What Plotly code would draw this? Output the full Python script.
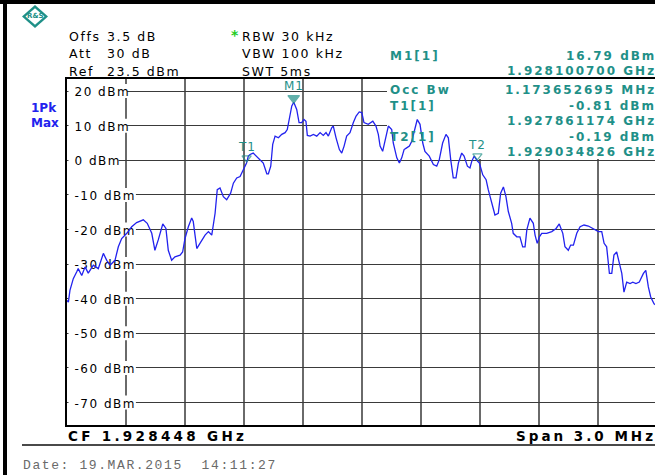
import plotly.graph_objects as go

# ---------------- data ----------------
center_ghz = 1.928448
span_mhz = 3.0
ref_level_dbm = 23.5
range_db = 100.0

offset_mhz = [0.000, 0.007, 0.015, 0.032, 0.049, 0.057, 0.075, 0.092, 0.108, 0.134,
              0.159, 0.185, 0.202, 0.219, 0.244, 0.261, 0.278, 0.304, 0.329, 0.354,
              0.388, 0.408, 0.431, 0.447, 0.464, 0.487, 0.503, 0.515, 0.532, 0.549,
              0.575, 0.588, 0.600, 0.617, 0.634, 0.642, 0.651, 0.660, 0.676, 0.702,
              0.719, 0.736, 0.753, 0.764, 0.778, 0.795, 0.812, 0.832, 0.846, 0.863,
              0.880, 0.893, 0.913, 0.922, 0.931, 0.947, 0.973, 0.998, 1.016, 1.024,
              1.036, 1.046, 1.058, 1.075, 1.092, 1.109, 1.120, 1.131, 1.143, 1.153,
              1.168, 1.180, 1.193, 1.205, 1.215, 1.222, 1.236, 1.253, 1.270, 1.287,
              1.303, 1.317, 1.329, 1.346, 1.354, 1.368, 1.385, 1.397, 1.409, 1.422,
              1.439, 1.456, 1.470, 1.486, 1.499, 1.510, 1.532, 1.555, 1.571, 1.583,
              1.592, 1.605, 1.617, 1.634, 1.651, 1.659, 1.677, 1.690, 1.702, 1.714,
              1.727, 1.741, 1.753, 1.770, 1.781, 1.795, 1.809, 1.820, 1.842, 1.863,
              1.880, 1.893, 1.910, 1.927, 1.939, 1.951, 1.964, 1.978, 1.990, 2.007,
              2.019, 2.036, 2.049, 2.058, 2.070, 2.087, 2.097, 2.114, 2.131, 2.142,
              2.160, 2.176, 2.193, 2.205, 2.219, 2.232, 2.244, 2.261, 2.269, 2.287,
              2.303, 2.317, 2.329, 2.338, 2.354, 2.371, 2.380, 2.391, 2.402, 2.414,
              2.439, 2.465, 2.487, 2.503, 2.521, 2.532, 2.549, 2.561, 2.575, 2.592,
              2.609, 2.629, 2.651, 2.676, 2.702, 2.719, 2.731, 2.744, 2.758, 2.770,
              2.781, 2.795, 2.808, 2.821, 2.832, 2.846, 2.863, 2.877, 2.893, 2.910,
              2.931, 2.943, 2.956, 2.968, 2.985, 3.000]

level_dbm = [-40.5, -41.0, -37.6, -34.2, -32.3, -31.3, -33.3, -30.8, -32.6, -30.3,
             -31.3, -26.9, -28.9, -30.3, -28.9, -25.0, -22.6, -21.1, -19.2, -18.0,
             -17.2, -18.2, -21.1, -26.0, -23.0, -18.4, -19.7, -26.0, -28.9, -27.9,
             -27.4, -26.5, -22.6, -19.2, -16.7, -17.7, -21.6, -25.5, -24.0, -21.6,
             -20.6, -21.6, -15.3, -8.5, -8.0, -10.5, -11.4, -9.5, -6.6, -5.1,
             -4.7, -3.2, -0.81, 1.2, 1.7, 2.1, 0.7, -0.8, -3.9, -3.9,
             -1.7, 4.6, 7.0, 6.5, 7.5, 8.0, 8.9, 12.8, 15.7, 16.79,
             14.7, 10.9, 10.9, 11.8, 11.3, 7.2, 7.0, 7.5, 7.0, 8.0,
             7.2, 8.0, 7.0, 9.4, 9.9, 6.5, 3.1, 2.1, 4.1, 7.0,
             8.0, 10.9, 12.8, 14.0, 13.8, 10.9, 10.4, 11.3, 9.9, 7.5,
             4.1, 2.6, 5.5, 9.9, 8.9, 5.0, 0.7, -0.8, 0.7, 3.1,
             3.6, 4.1, 5.5, 8.9, 11.8, 10.4, 5.0, 2.6, 1.2, -1.2,
             -1.7, 0.2, 5.0, 7.5, 6.5, 0.2, -5.1, -5.1, -0.8, 2.1,
             1.2, -1.7, -2.2, -0.3, 1.2, -0.19, -0.8, -4.2, -5.6, -8.5,
             -12.4, -15.8, -15.3, -9.5, -7.7, -10.5, -14.8, -18.2, -21.1, -22.1,
             -22.1, -25.0, -25.0, -20.1, -16.7, -18.2, -21.6, -24.0, -22.1, -21.1,
             -21.1, -20.6, -19.7, -18.4, -21.1, -25.0, -26.0, -24.5, -24.5, -21.1,
             -19.2, -18.7, -19.0, -19.7, -20.6, -20.6, -24.0, -25.0, -32.7, -32.7,
             -27.4, -26.5, -29.8, -32.7, -38.1, -35.2, -35.6, -35.2, -35.6, -35.2,
             -32.7, -31.8, -36.6, -39.5, -41.5, -42.0]

marker_names = ["M1", "T1", "T2"]
marker_freq_ghz = [1.9281007, 1.927861174, 1.929034826]
marker_level_dbm = [16.79, -0.81, -0.19]

y_tick_vals = [20, 10, 0, -10, -20, -30, -40, -50, -60, -70]
y_tick_text = [f"{v} dBm" for v in y_tick_vals]

header_left = [("Offs", "3.5 dB"), ("Att", "30 dB"), ("Ref", "23.5 dBm")]
header_mid = ["RBW 30 kHz", "VBW 100 kHz", "SWT 5ms"]
panel_rows = [("M1[1]", "16.79 dBm"), ("", "1.928100700 GHz"),
              ("Occ Bw", "1.173652695 MHz"), ("T1[1]", "-0.81 dBm"),
              ("", "1.927861174 GHz"), ("T2[1]", "-0.19 dBm"),
              ("", "1.929034826 GHz")]
footer_left = "CF 1.928448 GHz"
footer_right = "Span 3.0 MHz"
date_text = "Date: 19.MAR.2015\u00a0\u00a014:11:27"
trace_label = ["1Pk", "Max"]

# ---------------- layout geometry ----------------
W, H = 655, 475
L, R, T, B = 67, 0, 79, 50
PW, PH = W - L - R, H - T - B
FULL_PX = 590.0  # full 10-division width; right part is cut off by window
PX_PER_GHZ = FULL_PX / (span_mhz / 1000.0)
PX_PER_DB = PH / range_db

TEAL = "#1f9088"
BLUE = "#2222ee"

start_ghz = center_ghz - span_mhz / 2000.0
x_end = start_ghz + PW / PX_PER_GHZ
freq_ghz = [start_ghz + o / 1000.0 for o in offset_mhz]
x_grid = [start_ghz + k * span_mhz / 10000.0 for k in range(1, 10)]


def px(x):
    return (x - L) / PW


def py(y):
    return (H - B - y) / PH


def sp(text, ls):
    return f'<span style="letter-spacing:{ls}px">{text}</span>'


annotations = []


def ann(text, x, y, xanchor="left", size=12.5, color="black", bold=False,
        family="DejaVu Sans", ls=0.0):
    t = sp(text, ls) if ls else text
    if bold:
        t = f"<b>{t}</b>"
    annotations.append(dict(text=t, xref="paper", yref="paper", x=px(x), y=py(y),
                            xanchor=xanchor, yanchor="middle", showarrow=False,
                            borderpad=0,
                            font=dict(family=family, size=size, color=color)))


# header
for (lab, val), yy in zip(header_left, [36, 53.5, 71]):
    ann(lab, 68, yy, ls=1.6)
    ann(val, 106, yy, ls=1.6)
for txt, yy in zip(header_mid, [36, 53.5, 71]):
    ann(txt, 241, yy, ls=1.6)
ann("*", 230, 35, size=14, color="#22cc22", bold=True)

# marker panel
panel_y = [55.7, 71.5, 90, 105.5, 120.5, 136.7, 152.3]
for (lab, val), yy in zip(panel_rows, panel_y):
    if lab:
        ann(lab, 389, yy, size=12, color=TEAL, bold=True, ls=2.0)
    ann(val, 657, yy, xanchor="right", size=12, color=TEAL, bold=True, ls=2.0)

# trace label
ann(trace_label[0], 44, 108, xanchor="center", size=12, color=BLUE, bold=True)
ann(trace_label[1], 45, 123, xanchor="center", size=12, color=BLUE, bold=True)

# footer
ann(footer_left, 67, 436, size=13.5, bold=True, ls=3.3)
ann(footer_right, 657, 436, xanchor="right", size=13.5, bold=True, ls=3.0)
ann(date_text, 22, 465, size=13, color="#6a6a6a", family="Liberation Mono",
    ls=1.6)

# R&S logo text
ann("R&amp;S", 35, 16.5, xanchor="center", size=7, color=TEAL, bold=True)

# marker labels
for name, f, lv in zip(marker_names, marker_freq_ghz, marker_level_dbm):
    annotations.append(dict(text=sp(name, 1.0), x=f, y=lv, xref="x", yref="y",
                            yshift=16, showarrow=False, xanchor="center",
                            yanchor="middle",
                            font=dict(family="DejaVu Sans", size=12, color=TEAL)))

shapes = []
# tick label boxes (under the trace, above the grid)
for v, t in zip(y_tick_vals, y_tick_text):
    box_px = 8.7 * len(t) + 8
    shapes.append(dict(type="rect", layer="between", xref="x", yref="y",
                       x0=start_ghz + 1.5 / PX_PER_GHZ,
                       x1=start_ghz + box_px / PX_PER_GHZ,
                       y0=v - 7 / PX_PER_DB, y1=v + 7 / PX_PER_DB,
                       fillcolor="white", line=dict(width=0),
                       label=dict(text=sp(t, 1.5), textposition="middle left",
                                  padding=3,
                                  font=dict(family="DejaVu Sans", size=12,
                                            color="black"))))

# white area behind the marker panel
shapes.append(dict(type="rect", layer="between", xref="x", yref="y",
                   x0=start_ghz + (387 - L) / PX_PER_GHZ,
                   x1=x_end, y0=0.4, y1=ref_level_dbm,
                   fillcolor="white", line=dict(width=0)))

# outer black frame of the screenshot
shapes.append(dict(type="rect", xref="paper", yref="paper", layer="above",
                   x0=px(0), x1=px(W), y0=py(4), y1=py(0),
                   fillcolor="black", line=dict(width=0)))
shapes.append(dict(type="rect", xref="paper", yref="paper", layer="above",
                   x0=px(3), x1=px(7), y0=py(H), y1=py(0),
                   fillcolor="black", line=dict(width=0)))
# separator line under footer
shapes.append(dict(type="line", xref="paper", yref="paper", layer="above",
                   x0=px(22), x1=px(W), y0=py(445), y1=py(445),
                   line=dict(color="#4a4a4a", width=2)))

# logo diamond
cx, cy = 35, 16.5


def diamond(hw, hh):
    return (f"M {px(cx - hw)} {py(cy)} L {px(cx)} {py(cy - hh)} "
            f"L {px(cx + hw)} {py(cy)} L {px(cx)} {py(cy + hh)} Z")


shapes.append(dict(type="path", xref="paper", yref="paper", layer="above",
                   path=diamond(13, 11.5), fillcolor=TEAL, line=dict(width=0)))
shapes.append(dict(type="path", xref="paper", yref="paper", layer="above",
                   path=diamond(9.5, 8.3), fillcolor="white", line=dict(width=0)))

fig = go.Figure()
fig.add_trace(go.Scatter(x=freq_ghz, y=level_dbm, mode="lines",
                         line=dict(color=BLUE, width=1.3), hoverinfo="skip"))

marker_lift_db = [1.2, 1.5, 1.5]
fig.add_trace(go.Scatter(
    x=marker_freq_ghz,
    y=[lv + d for lv, d in zip(marker_level_dbm, marker_lift_db)],
    mode="markers", hoverinfo="skip",
    marker=dict(symbol=["triangle-down", "triangle-down-open", "triangle-down-open"],
                size=[10, 8, 8], color=TEAL, line=dict(color=TEAL, width=1.3))))

fig.update_layout(
    width=W, height=H,
    margin=dict(l=L, r=R, t=T, b=B, pad=0),
    paper_bgcolor="white", plot_bgcolor="white",
    showlegend=False,
    xaxis=dict(range=[start_ghz, x_end], tickvals=x_grid, showticklabels=False,
               ticks="", showgrid=True, gridcolor="#6a6a6a", gridwidth=1.5,
               zeroline=False, showline=True, linecolor="black", linewidth=2,
               mirror=True),
    yaxis=dict(range=[ref_level_dbm - range_db, ref_level_dbm],
               tickvals=y_tick_vals, showticklabels=False, ticks="",
               showgrid=True, gridcolor="#3a3a3a", gridwidth=1,
               zeroline=False, showline=True, linecolor="black", linewidth=2),
    annotations=annotations,
    shapes=shapes,
)

fig.write_html("out.html", config={"displayModeBar": False},
               post_script="document.body.style.margin='0';")
